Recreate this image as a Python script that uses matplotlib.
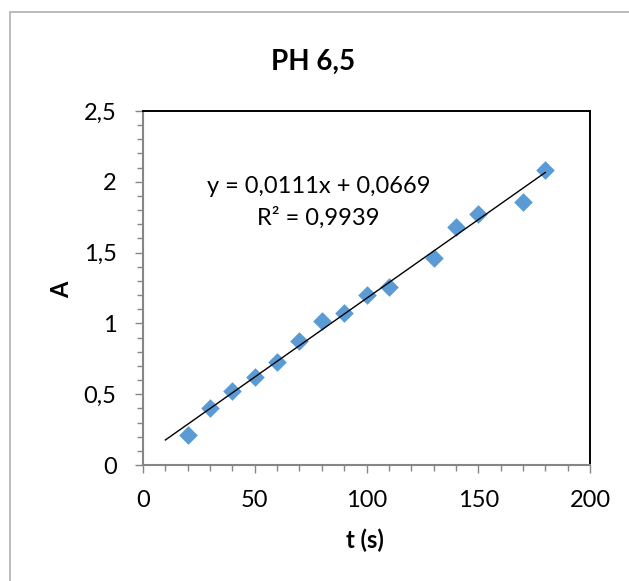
import numpy as np
import matplotlib.pyplot as plt
from matplotlib.patches import Rectangle
from matplotlib.ticker import MultipleLocator, FuncFormatter

plt.rcParams['font.family'] = ['Lato', 'DejaVu Sans']

# data
t_s = [20, 30, 40, 50, 60, 70, 80, 90, 100, 110, 130, 140, 150, 170, 180]
absorb = [0.21, 0.40, 0.525, 0.625, 0.73, 0.875, 1.015, 1.07, 1.20, 1.26, 1.465, 1.68, 1.77, 1.86, 2.08]
trend_range = [10, 180]
eq_text = "y = 0,0111x + 0,0669"
r2_text = "R² = 0,9939"

fig = plt.figure(figsize=(6.29, 5.81), dpi=100)

# outer chart border
fig.patches.append(Rectangle((10 / 629, -0.1), 1.2, 1 - 12 / 581 + 0.1,
                             transform=fig.transFigure, fill=False,
                             edgecolor='#b0b0b0', lw=1.2))

ax = fig.add_axes([143 / 629, 1 - 465 / 581, 447 / 629, 354 / 581])

ax.scatter(t_s, absorb, marker='D', s=90, color='#5B9BD5', zorder=3, linewidths=0)

# linear trendline
coef = np.polyfit(t_s, absorb, 1)
xs = np.array(trend_range)
ax.plot(xs, np.polyval(coef, xs), color='black', lw=1.0, zorder=4)

ax.text(78.5, 1.97, eq_text, ha='center', va='center', fontsize=17)
ax.text(78.5, 1.745, r2_text, ha='center', va='center', fontsize=17)

ax.set_xlim(0, 200)
ax.set_ylim(0, 2.5)
ax.xaxis.set_major_locator(MultipleLocator(50))
ax.xaxis.set_minor_locator(MultipleLocator(10))
ax.yaxis.set_major_locator(MultipleLocator(0.5))
ax.yaxis.set_minor_locator(MultipleLocator(0.1))
ax.yaxis.set_major_formatter(FuncFormatter(lambda v, p: ('%g' % v).replace('.', ',')))

for side in ['left', 'bottom']:
    ax.spines[side].set_color('#868686')
    ax.spines[side].set_linewidth(1.5)
for side in ['top', 'right']:
    ax.spines[side].set_color('black')
    ax.spines[side].set_linewidth(1.4)

ax.tick_params(which='major', length=6, width=1, color='#868686', labelsize=17)
ax.tick_params(axis='x', which='major', pad=12)
ax.tick_params(axis='y', which='major', pad=13)
ax.tick_params(which='minor', length=4, width=1, color='#868686')

fig.text(313 / 629, 1 - 62 / 581, "PH 6,5", ha='center', va='center', fontsize=20, fontweight='bold')
fig.text(62 / 629, 1 - 290 / 581, "A", ha='center', va='center', rotation=90, fontsize=17, fontweight='bold')
fig.text(365 / 629, 1 - 540 / 581, "t (s)", ha='center', va='center', fontsize=17, fontweight='bold')

fig.savefig("out.png", dpi=100)
